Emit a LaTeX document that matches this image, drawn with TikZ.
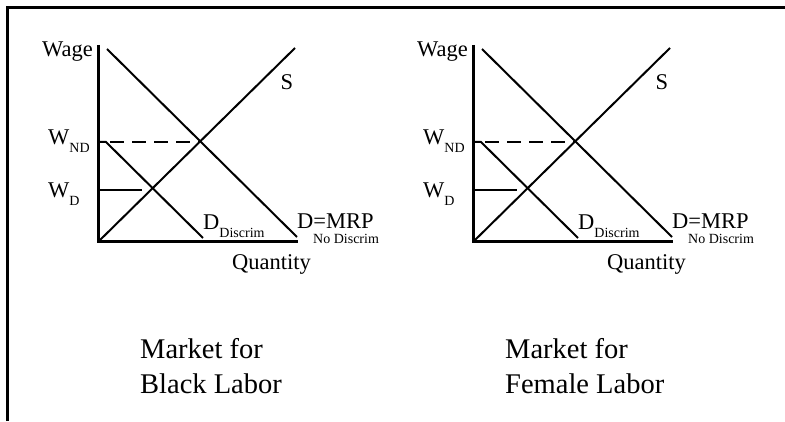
\documentclass[tikz,border=0pt]{standalone}
\usepackage{fontspec}
\setmainfont{Liberation Serif}
\usetikzlibrary{positioning,calc}
\newcommand\subtxt[1]{{\fontsize{14}{16}\selectfont\raisebox{-8pt}{#1}}}
\tikzset{
  frame/.style={line width=3pt},
  axis/.style={line width=3pt},
  curve/.style={line width=2pt},
  lab/.style={font=\fontsize{22.5}{26}\selectfont,inner sep=0pt},
  sublab/.style={font=\fontsize{14}{16}\selectfont,inner sep=0pt},
  title/.style={font=\fontsize{28.5}{34}\selectfont,inner sep=0pt},
}

\begin{document}
\begin{tikzpicture}[x=1pt,y=1pt]
\useasboundingbox (0,0) rectangle (785,421);
\draw[frame] (7.5,0) |- (785,413.5);
% one market per pass
\foreach \ox/\mx/\who in {98/140/Black,473/505/Female}{
  \begin{scope}[shift={(\ox,179)}]
    \coordinate (o\who) at (0,0);
    \coordinate (ytop\who) at (0,197);
    \coordinate (xend\who) at (200,0);
    \coordinate (stop\who) at (197,194);
    \coordinate (dtop\who) at (9,193);
    \coordinate (dbot\who) at (199,5);
    \coordinate (eq\who) at (102,100);
    \coordinate (wnd\who) at (0,100);
    \coordinate (ddtop\who) at (8,100);
    \coordinate (dash\who) at (12,100);
    \coordinate (ddbot\who) at (105,4);
    \coordinate (wd\who) at (0,52);
    \coordinate (wdend\who) at (44,52);
    \draw[axis] (ytop\who) -- (o\who) -- (xend\who);
    \draw[curve] (o\who) -- (stop\who);
    \draw[curve] (dtop\who) -- (dbot\who);
    \draw[curve] (wnd\who) -- (ddtop\who) -- (ddbot\who);
    \draw[curve,dash pattern=on 14pt off 8pt] (dash\who) -- (eq\who);
    \draw[curve] (wd\who) -- (wdend\who);
    \node[lab,anchor=base east] (wage\who) at (-5,185) {Wage};
    \node[lab,anchor=base west] (wnd\who lab) at (-50,97) {W\subtxt{ND}};
    \node[lab,anchor=base west] (wd\who lab) at (-50,44) {W\subtxt{D}};
    \node[lab] (s\who) at (189,160) {S};
    \node[lab,anchor=base west] (dd\who) at (105,12) {D\subtxt{Discrim}};
    \node[lab,anchor=base west] (mrp\who) at (199,14) {D=MRP};
    \node[sublab,anchor=base west] (nod\who) at (215,-2) {No Discrim};
    \node[lab,anchor=base west] (qty\who) at (134,-28) {Quantity};
  \end{scope}
  \node[title,anchor=base west] (mkt\who) at (\mx,63) {Market for};
  \node[title,anchor=base west] (who\who) at (\mx,28) {\who{} Labor};
}
\end{tikzpicture}
\end{document}
